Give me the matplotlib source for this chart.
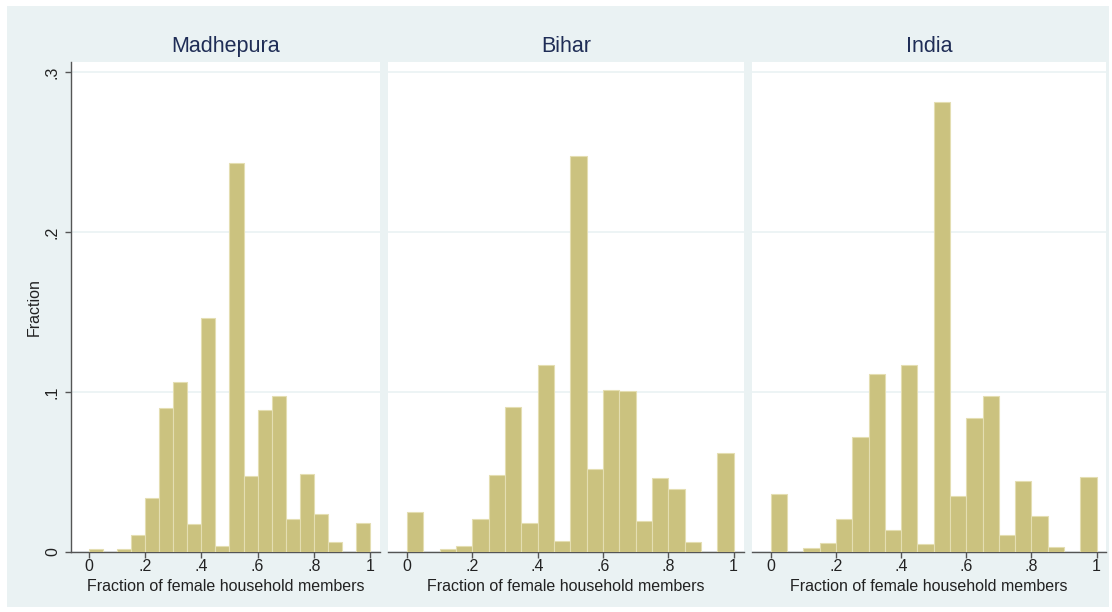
import numpy as np
import matplotlib.pyplot as plt
from matplotlib.patches import Rectangle

plt.rcParams['font.family'] = ['Liberation Sans', 'DejaVu Sans']

# share of households per 0.05-wide bin of the female fraction
bin_left = np.arange(0, 1, 0.05)
madhepura = [0.0015, 0, 0.0015, 0.0102, 0.0336, 0.0898, 0.106, 0.0173, 0.146, 0.0033,
             0.243, 0.0474, 0.0887, 0.0973, 0.0205, 0.0484, 0.0238, 0.0063, 0, 0.0177]
bihar = [0.0249, 0, 0.0015, 0.0036, 0.0203, 0.048, 0.0905, 0.018, 0.117, 0.0067,
         0.2474, 0.0519, 0.1012, 0.1008, 0.019, 0.0462, 0.0395, 0.0061, 0, 0.0617]
india = [0.0362, 0, 0.0021, 0.0052, 0.0203, 0.0715, 0.111, 0.0134, 0.1167, 0.0046,
         0.2813, 0.0347, 0.0839, 0.0972, 0.0107, 0.0443, 0.0224, 0.0029, 0, 0.0468]

panels = ['Madhepura', 'Bihar', 'India']
series = [madhepura, bihar, india]
xticks = [0, 0.2, 0.4, 0.6, 0.8, 1]
xticklabels = ['0', '.2', '.4', '.6', '.8', '1']
yticks = [0, 0.1, 0.2, 0.3]
yticklabels = ['0', '.1', '.2', '.3']

W, H = 1112, 612
bg = '#EAF2F3'
bar_fill = '#CBC27F'
bar_edge = '#E4DEB2'
axis_col = '#555555'

fig = plt.figure(figsize=(W / 100, H / 100), dpi=100, facecolor='white')
fig.patches.append(Rectangle((7 / W, 5 / H), (1109 - 7) / W, (606 - 5) / H,
                             transform=fig.transFigure, facecolor=bg,
                             edgecolor='none', zorder=-10))

# pixel extents of each plot region (left, right) and shared vertical span
boxes = [(71, 380), (388, 744), (752, 1106)]
xlims = [(-0.063, 1.035), (-0.058, 1.032), (-0.058, 1.029)]
top_px, base_px = 62, 551.7

for i, (name, vals) in enumerate(zip(panels, series)):
    l, r = boxes[i]
    ax = fig.add_axes([l / W, (H - base_px) / H, (r - l) / W, (base_px - top_px) / H])
    ax.set_facecolor('white')
    ax.bar(bin_left, vals, width=0.05, align='edge', color=bar_fill,
           edgecolor=bar_edge, linewidth=0.8, zorder=3)
    ax.set_xlim(*xlims[i])
    ax.set_ylim(0, 0.3065)
    ax.set_yticks(yticks)
    ax.yaxis.grid(True, color=bg, linewidth=1.2, zorder=0)
    ax.set_axisbelow(True)

    for s in ['top', 'right', 'left']:
        ax.spines[s].set_visible(False)
    ax.spines['bottom'].set_color(axis_col)
    ax.spines['bottom'].set_linewidth(1.0)

    ax.set_xticks(xticks)
    ax.set_xticklabels(xticklabels)
    ax.tick_params(axis='x', direction='out', length=4, width=1.0, color=axis_col,
                   pad=1.5, labelsize=11.5, labelcolor='#222222')
    ax.set_xlabel('Fraction of female household members', fontsize=11.5,
                  color='#222222', labelpad=3)
    ax.set_title(name, fontsize=15.5, color='#1F2D56', pad=7)

    if i == 0:
        ax.spines['left'].set_visible(True)
        ax.spines['left'].set_color(axis_col)
        ax.spines['left'].set_linewidth(1.0)
        ax.set_yticklabels(yticklabels)
        ax.tick_params(axis='y', direction='out', length=4, width=1.0, color=axis_col,
                       pad=4, labelsize=11.5, labelcolor='#222222')
        plt.setp(ax.get_yticklabels(), rotation=90, va='center')
        ax.set_ylabel('Fraction', fontsize=11.5, color='#222222')
        ax.yaxis.set_label_coords((42 - l) / (r - l), 0.5)
    else:
        ax.tick_params(axis='y', left=False, labelleft=False)

fig.savefig('out.png', dpi=100, facecolor='white')
